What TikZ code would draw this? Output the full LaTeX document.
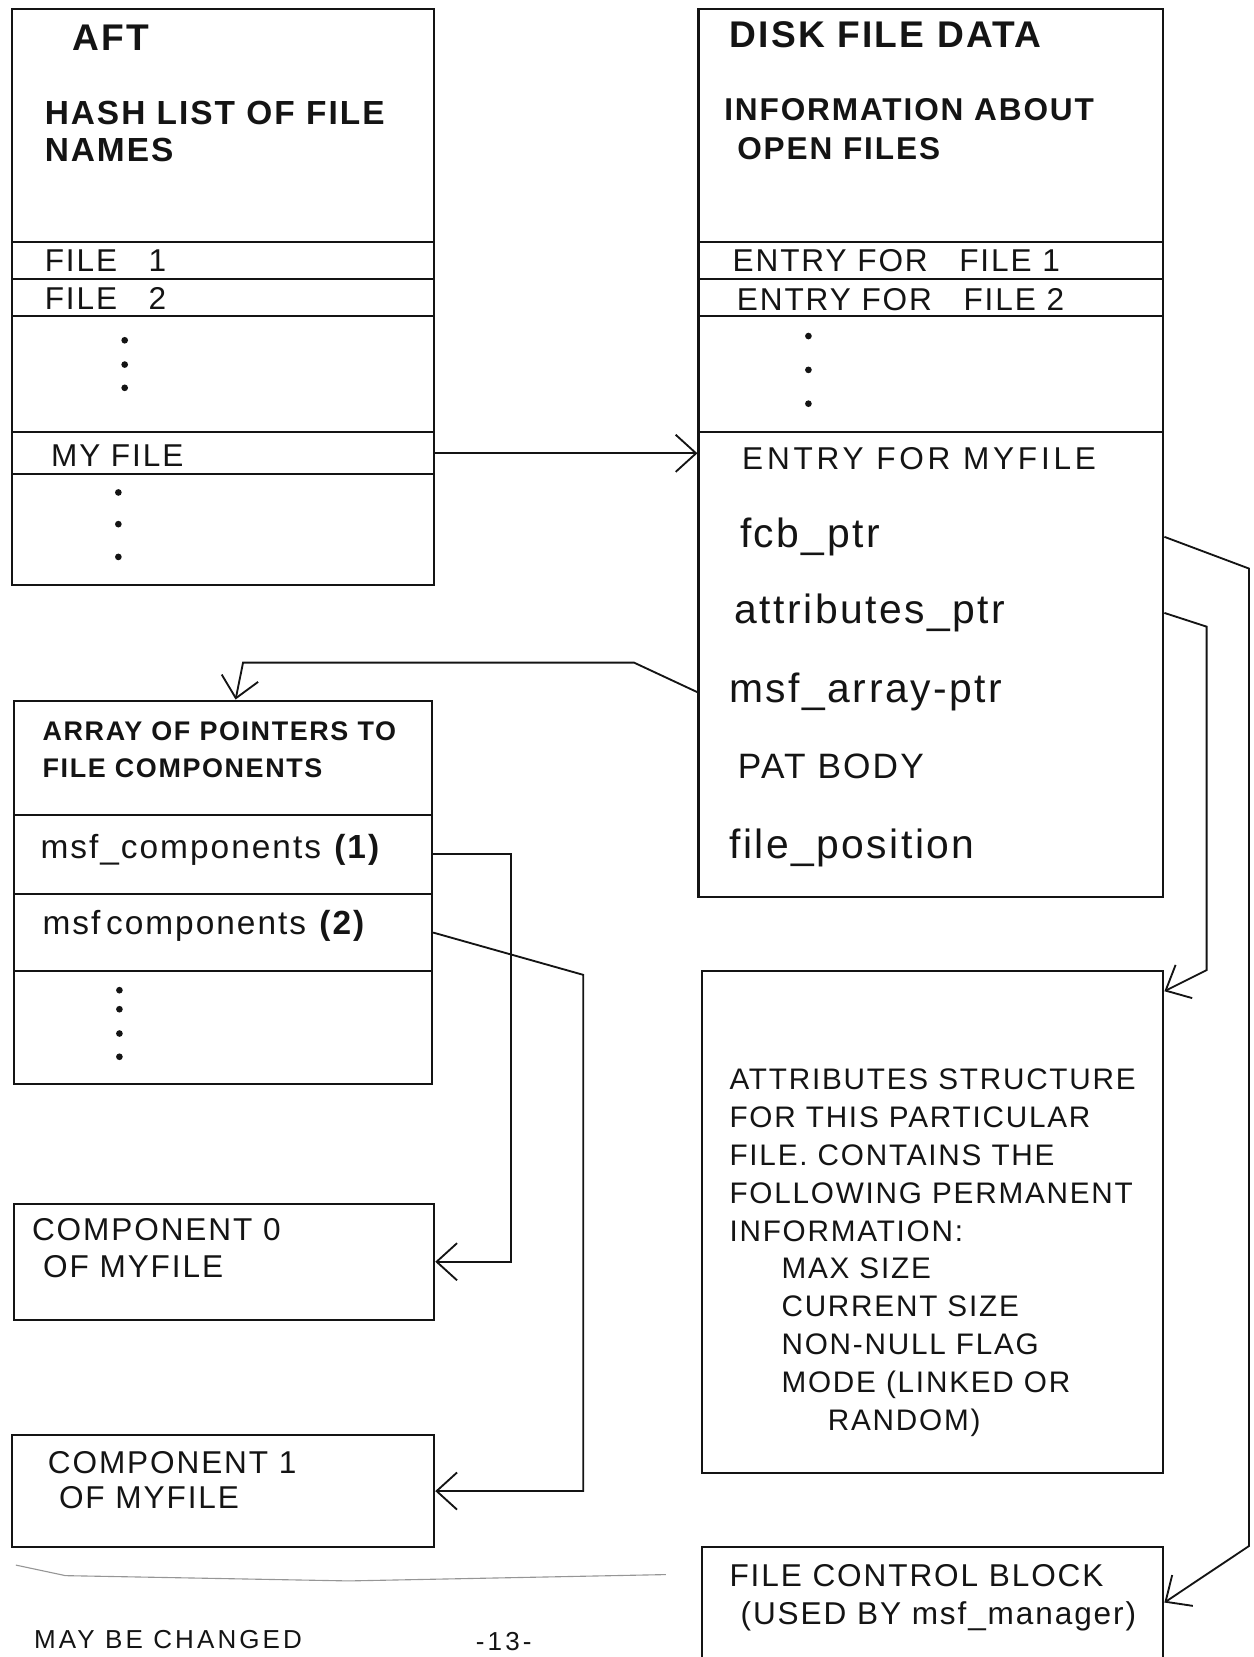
\documentclass[tikz,border=0pt]{standalone}
\usepackage{fontspec}
\setmainfont{Liberation Sans}
\newfontfamily\handfont[LetterSpace=6]{Liberation Sans}
\newfontfamily\widefont[LetterSpace=12]{Liberation Sans}
\usepackage{tikz}
\usetikzlibrary{arrows.meta, positioning, calc}
\definecolor{ink}{RGB}{20,20,20}
\definecolor{smudge}{RGB}{150,150,150}
\tikzset{
  cell/.style={rectangle, draw=ink, line width=1.1pt, anchor=north west, inner sep=0pt},
  txt/.style={anchor=base west, inner sep=0pt, text=ink,
    font=\handfont\fontsize{17}{20}\selectfont},
  headtxt/.style={anchor=north west, inner sep=0pt, align=left, text=ink},
  fieldtxt/.style={txt, font=\handfont\fontsize{22}{24}\selectfont},
  arrow/.style={-{Straight Barb[length=11pt,width=20pt]}, line width=1pt, color=ink},
  line/.style={line width=1pt, color=ink}
}

\begin{document}
\begin{tikzpicture}[x=0.02cm, y=-0.02cm]
  \useasboundingbox (0,0) rectangle (1186,1568);

  % AFT table
  \node[cell, minimum width=8cm, minimum height=4.4cm] (aft0) at (10,8) {};
  \node[cell, minimum width=8cm, minimum height=0.7cm] (aft1) at (10,228) {};
  \node[cell, minimum width=8cm, minimum height=0.7cm] (aft2) at (10,263) {};
  \node[cell, minimum width=8cm, minimum height=2.2cm] (aft3) at (10,298) {};
  \node[cell, minimum width=8cm, minimum height=0.8cm] (aft4) at (10,408) {};
  \node[cell, minimum width=8cm, minimum height=2.1cm] (aft5) at (10,448) {};
  \node[headtxt, anchor=base west, font=\handfont\bfseries\fontsize{20}{22}\selectfont] (tAft) at (68,48) {AFT};
  \node[headtxt, font=\handfont\bfseries\fontsize{18}{20}\selectfont] (tHash) at (42,95) {HASH LIST OF FILE\\NAMES};
  \node[txt] (tFile1) at (42,257) {FILE\quad 1};
  \node[txt] (tFile2) at (42,293) {FILE\quad 2};
  \node[txt] (tMy) at (48,441) {MY FILE};
  \foreach \y in {322,345,367} \fill[ink] (118,\y) circle (1.8pt);
  \foreach \y in {466,496,527} \fill[ink] (112,\y) circle (1.8pt);

  % Disk file data table
  \node[cell, minimum width=8.8cm, minimum height=4.4cm] (dfd0) at (660,8) {};
  \node[cell, minimum width=8.8cm, minimum height=0.7cm] (dfd1) at (660,228) {};
  \node[cell, minimum width=8.8cm, minimum height=0.7cm] (dfd2) at (660,263) {};
  \node[cell, minimum width=8.8cm, minimum height=2.2cm] (dfd3) at (660,298) {};
  \node[cell, minimum width=8.8cm, minimum height=8.8cm] (dfd4) at (660,408) {};
  \node[headtxt, anchor=base west, font=\handfont\bfseries\fontsize{20}{22}\selectfont] (tDisk) at (690,45) {DISK FILE DATA};
  \node[headtxt, font=\handfont\bfseries\fontsize{17}{21}\selectfont] (tInfo) at (685,93) {INFORMATION ABOUT\\\hspace*{7pt}OPEN FILES};
  \node[txt] (tEntry1) at (693,257) {ENTRY FOR\quad FILE 1};
  \node[txt] (tEntry2) at (697,294) {ENTRY FOR\quad FILE 2};
  \node[txt, font=\widefont\fontsize{17}{20}\selectfont] (tEntryMy) at (702,444) {ENTRY FOR MYFILE};
  \node[fieldtxt] (fcbPtr) at (700,518) {fcb\_ptr};
  \node[fieldtxt] (attrPtr) at (695,590) {attributes\_ptr};
  \node[fieldtxt] (msfPtr) at (690,665) {msf\_array-ptr};
  \node[txt, font=\handfont\fontsize{19}{22}\selectfont] (patBody) at (698,737) {PAT BODY};
  \node[fieldtxt] (filePos) at (690,812) {file\_position};
  \foreach \y in {318,350,382} \fill[ink] (765,\y) circle (1.8pt);

  % Array of component pointers
  \node[cell, minimum width=7.92cm, minimum height=2.16cm] (arr0) at (12,662) {};
  \node[cell, minimum width=7.92cm, minimum height=1.5cm] (arr1) at (12,770) {};
  \node[cell, minimum width=7.92cm, minimum height=1.46cm] (arr2) at (12,845) {};
  \node[cell, minimum width=7.92cm, minimum height=2.14cm] (arr3) at (12,918) {};
  \node[headtxt, font=\handfont\bfseries\fontsize{14.5}{19.8}\selectfont] (tArray) at (40,683) {ARRAY OF POINTERS TO\\FILE COMPONENTS};
  \node[txt, font=\handfont\fontsize{18}{20}\selectfont] (tComp1) at (38,812) {msf\_components \textbf{(1)}};
  \node[txt, font=\handfont\fontsize{18}{20}\selectfont] (tComp2) at (40,884) {msf\,components \textbf{(2)}};
  \foreach \y in {937,955,978,1000} \fill[ink] (113,\y) circle (1.8pt);

  % Components
  \node[cell, minimum width=7.96cm, minimum height=2.2cm] (comp0) at (12,1138) {};
  \node[cell, minimum width=8cm, minimum height=2.12cm] (comp1) at (10,1357) {};
  \node[headtxt, font=\handfont\fontsize{17}{19.8}\selectfont] (tComp0) at (30,1153) {COMPONENT 0\\\hspace*{6pt}OF MYFILE};
  \node[headtxt, font=\handfont\fontsize{17}{18.7}\selectfont] (tCompOne) at (45,1373) {COMPONENT 1\\\hspace*{6pt}OF MYFILE};

  % Attributes and file control block
  \node[cell, minimum width=8.74cm, minimum height=9.5cm] (attr) at (663,918) {};
  \node[cell, minimum width=8.74cm, minimum height=2.4cm] (fcb) at (663,1463) {};
  \node[headtxt, font=\handfont\fontsize{16}{20.4}\selectfont] (tAttr) at (690,1011)
    {ATTRIBUTES STRUCTURE\\FOR THIS PARTICULAR\\FILE. CONTAINS THE\\FOLLOWING PERMANENT\\INFORMATION:\\
     \hspace*{28pt}MAX SIZE\\\hspace*{28pt}CURRENT SIZE\\\hspace*{28pt}NON-NULL FLAG\\
     \hspace*{28pt}MODE (LINKED OR\\\hspace*{53pt}RANDOM)};
  \node[headtxt, font=\handfont\fontsize{17}{20.4}\selectfont] (tFcb) at (690,1480)
    {FILE CONTROL BLOCK\\\hspace*{6pt}(USED BY msf\_manager)};

  % Pointers
  \draw[arrow] (aft4.east) -- (aft4.east -| dfd4.west);
  \draw[arrow] (dfd4.east |- fcbPtr.east) -- ++(80,30) -- ++(0,925) -- ([yshift=0.15cm]fcb.east);
  \draw[arrow] (dfd4.east |- attrPtr.east) -- ++(40,13) -- ++(0,325) -- ([yshift=-0.4cm]attr.north east);
  \draw[arrow] (dfd4.west |- msfPtr.east) -- ++(-60,-28) -- ++(-370,0) -- ([xshift=0.24cm]arr0.north);
  \draw[arrow] (arr1.east) -- ++(74,0) |- (comp0.east);
  \draw[arrow] (arr2.east) -- ++(142,40) |- (comp1.east);

  % Page foot
  \draw[smudge, line width=0.6pt] (15,1481) -- (62,1491) -- (330,1496) -- (630,1490);
  \node[txt, font=\widefont\fontsize{14}{16}\selectfont] (tFoot) at (32,1560) {MAY BE CHANGED};
  \node[txt, font=\widefont\fontsize{14}{16}\selectfont] (tPage) at (450,1562) {-13-};
\end{tikzpicture}
\end{document}
